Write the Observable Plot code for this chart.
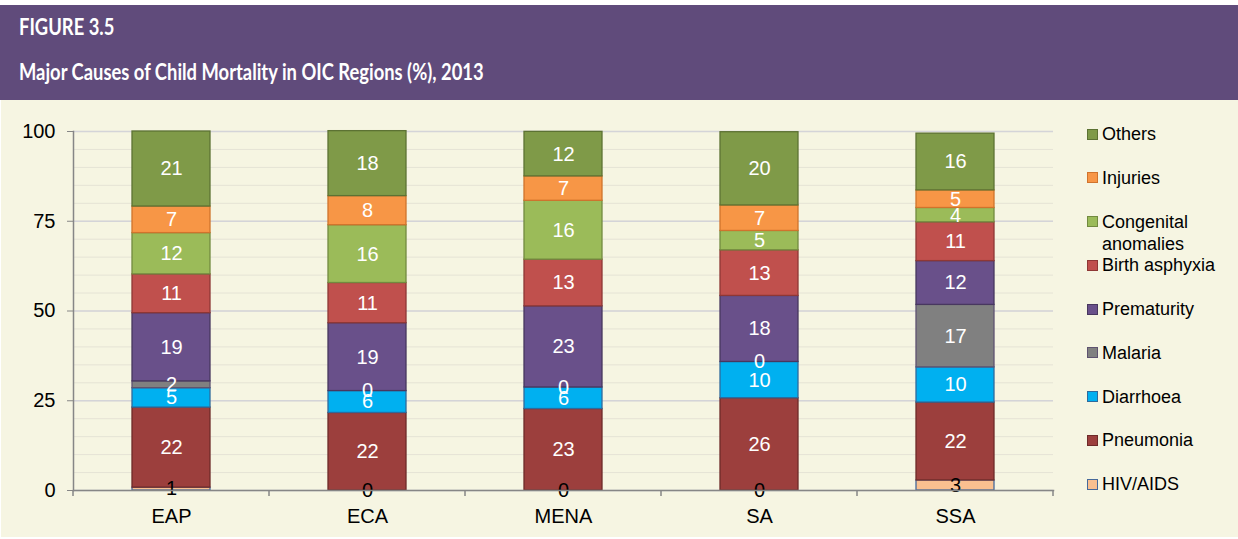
<!DOCTYPE html>
<html>
<head>
<meta charset="utf-8">
<script src="https://cdn.jsdelivr.net/npm/d3@7"></script>
<script src="https://cdn.jsdelivr.net/npm/@observablehq/plot@0.6"></script>
<style>
  body { margin: 0; background: #ffffff; }
  #wrap { position: relative; width: 1238px; height: 539px; overflow: hidden; background: #ffffff; }
  #band { position: absolute; left: 0; top: 5px; width: 1238px; height: 95px; background: #604B7B; }
  .t { position: absolute; left: 19px; color: #ffffff; font-family: Lato, "Open Sans", sans-serif; font-weight: 700; white-space: nowrap; line-height: 1; transform: scaleX(0.835); transform-origin: 0 0; }
  #t1 { top: 16px; font-size: 22px; }
  #t2 { top: 61px; font-size: 22px; }
  #cream { position: absolute; left: 1px; top: 100px; width: 1237px; height: 437px; background: #F6F5E2; }
  #chart { position: absolute; left: 0; top: 100px; }
  .li { position: absolute; left: 1087px; display: flex; align-items: flex-start; font-family: "Liberation Sans", Arial, sans-serif; font-size: 18px; line-height: 22px; color: #000; white-space: pre-line; }
  .sw { width: 9px; height: 9px; margin-top: 5.5px; margin-right: 4px; border: 1.5px solid #000; flex: none; }
</style>
</head>
<body>
<div id="wrap">
  <div id="band"></div>
  <div class="t" id="t1">FIGURE 3.5</div>
  <div class="t" id="t2">Major Causes of Child Mortality in OIC Regions (%), 2013</div>
  <div id="cream"></div>
  <div id="chart"></div>
  <div id="legend"></div>
</div>
<script>
// ---- Data ----
const regions = ["EAP", "ECA", "MENA", "SA", "SSA"];
const causes = ["HIV/AIDS", "Pneumonia", "Diarrhoea", "Malaria", "Prematurity", "Birth asphyxia", "Congenital anomalies", "Injuries", "Others"];
const hivAids       = [0.8, 0, 0, 0, 2.8];
const pneumonia     = [22.3, 21.6, 22.7, 25.7, 21.7];
const diarrhoea     = [5.4, 6.1, 6.0, 10.1, 9.8];
const malaria       = [1.9, 0, 0, 0, 17.4];
const prematurity   = [19.0, 18.9, 22.6, 18.4, 12.2];
const birthAsphyxia = [10.8, 11.2, 13.0, 12.7, 10.8];
const congenital    = [11.5, 16.1, 16.4, 5.4, 4.0];
const injuries      = [7.4, 8.1, 6.8, 7.1, 4.9];
const others        = [20.9, 18.1, 12.4, 20.4, 15.8];
const yTicks = [0, 25, 50, 75, 100];
const minorTicks = d3.range(0, 101, 5);
const legendText = ["Others", "Injuries", "Congenital\nanomalies", "Birth asphyxia", "Prematurity", "Malaria", "Diarrhoea", "Pneumonia", "HIV/AIDS"];

// ---- Styles ----
const fills = {
  "HIV/AIDS": "#FAC090", "Pneumonia": "#9C3F3D", "Diarrhoea": "#00B0F0", "Malaria": "#808080",
  "Prematurity": "#69508A", "Birth asphyxia": "#C0504D", "Congenital anomalies": "#9BBB59",
  "Injuries": "#F79646", "Others": "#7F9A48"
};
const strokes = {
  "HIV/AIDS": "#46699A", "Pneumonia": "#6E2A29", "Diarrhoea": "#2E6A9C", "Malaria": "#5E5270",
  "Prematurity": "#48375F", "Birth asphyxia": "#8E3735", "Congenital anomalies": "#728A3F",
  "Injuries": "#D0732C", "Others": "#5C7233"
};

const series = [hivAids, pneumonia, diarrhoea, malaria, prematurity, birthAsphyxia, congenital, injuries, others];
const data = [];
regions.forEach((r, i) => causes.forEach((c, j) => data.push({region: r, cause: c, value: series[j][i]})));

function boundaryTicks(index, scales, values, dims) {
  const x = scales.x;
  const step = x(regions[1]) - x(regions[0]);
  const bw = x.bandwidth ? x.bandwidth() : 0;
  const y0 = dims.height - dims.marginBottom;
  const pos = regions.map(r => x(r) + bw / 2 - step / 2);
  pos.push(x(regions[regions.length - 1]) + bw / 2 + step / 2);
  const g = d3.create("svg:g").attr("stroke", "#868686").attr("stroke-width", 1.5);
  g.selectAll("line").data(pos).join("line")
    .attr("x1", d => d).attr("x2", d => d).attr("y1", y0).attr("y2", y0 + 6);
  return g.node();
}

const chart = Plot.plot({
  width: 1238, height: 437,
  marginTop: 31, marginBottom: 47, marginLeft: 73, marginRight: 185,
  style: {background: "transparent", fontFamily: "'Liberation Sans', Arial, sans-serif", fontSize: "20px", color: "#000"},
  x: {domain: regions, paddingInner: 0.6, paddingOuter: 0.3, label: null},
  y: {domain: [0, 100], label: null},
  color: {type: "identity"},
  marks: [
    Plot.ruleY(minorTicks, {stroke: "#E5E3D5", strokeWidth: 1}),
    Plot.ruleY(yTicks, {stroke: "#D4D4D8", strokeWidth: 1.5}),
    Plot.barY(data, Plot.stackY({x: "region", y: "value", z: "cause", fill: d => fills[d.cause], stroke: d => strokes[d.cause], strokeWidth: 1.3})),
    Plot.text(data, Plot.stackY({x: "region", y: "value", z: "cause", text: d => String(Math.round(d.value)), fill: d => d.cause === "HIV/AIDS" ? "#000" : "#fff", fontSize: 20})),
    Plot.frame({anchor: "left", stroke: "#868686", strokeWidth: 1.5}),
    Plot.frame({anchor: "bottom", stroke: "#868686", strokeWidth: 1.5}),
    Plot.axisY({ticks: yTicks, tickSize: 6, tickPadding: 12, stroke: "#868686", fill: "#000", fontSize: 20, label: null}),
    Plot.axisX({tickSize: 0, tickPadding: 18, fill: "#000", fontSize: 20, label: null}),
    boundaryTicks
  ]
});
document.getElementById("chart").appendChild(chart);

// ---- Legend ----
const legend = document.getElementById("legend");
causes.slice().reverse().forEach((c, i) => {
  const item = document.createElement("div");
  item.className = "li";
  item.style.top = (134 + 43.75 * i - 11) + "px";
  const sw = document.createElement("span");
  sw.className = "sw";
  sw.style.background = fills[c];
  sw.style.borderColor = strokes[c];
  const tx = document.createElement("span");
  tx.textContent = legendText[i];
  item.appendChild(sw);
  item.appendChild(tx);
  legend.appendChild(item);
});
</script>
</body>
</html>
